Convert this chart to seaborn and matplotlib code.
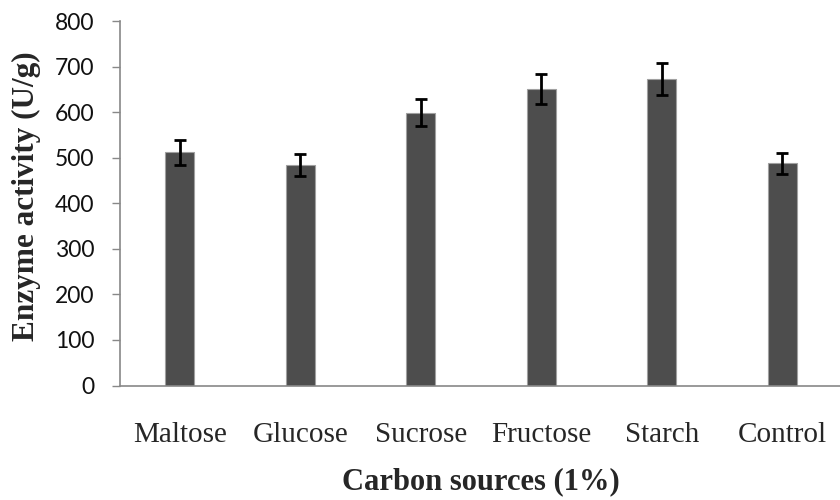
import matplotlib
matplotlib.use("Agg")
import matplotlib.pyplot as plt
import seaborn as sns
import pandas as pd

categories = ["Maltose", "Glucose", "Sucrose", "Fructose", "Starch", "Control"]
activity = [512, 483, 599, 650, 672, 488]
errors = [27, 24, 30, 33, 35, 23]
y_ticks = [0, 100, 200, 300, 400, 500, 600, 700, 800]

sns.set_theme(style="white")
plt.rcParams["font.family"] = ["Liberation Serif", "DejaVu Serif"]

df = pd.DataFrame({"source": categories, "activity": activity})

fig = plt.figure(figsize=(8.4, 5.0), dpi=100)
ax = fig.add_axes([119.5 / 840, 1 - 385.5 / 500, 723 / 840, (385.5 - 21) / 500])

sns.barplot(data=df, x="source", y="activity", color="#4d4d4d", saturation=1,
            width=0.24, edgecolor="#a0a0a0", linewidth=0.8, ax=ax)
ax.errorbar(range(len(categories)), activity, yerr=errors, fmt="none",
            ecolor="black", elinewidth=2.0, capsize=4.5, capthick=2.0, zorder=5)

ax.set_xlim(-0.5, len(categories) - 0.5)
ax.set_ylim(0, 800)
ax.set_yticks(y_ticks)
ax.set_yticklabels([str(v) for v in y_ticks], family=["Lato", "DejaVu Sans"],
                   fontsize=16.5, color="#111111")
ax.tick_params(axis="y", direction="out", length=6, width=1, color="#888888",
               left=True, pad=12)
ax.tick_params(axis="x", length=0, pad=26, labelsize=21)
for lbl in ax.get_xticklabels():
    lbl.set_family(["Liberation Serif", "DejaVu Serif"])

for side in ["top", "right"]:
    ax.spines[side].set_visible(False)
for side in ["left", "bottom"]:
    ax.spines[side].set_color("#888888")
    ax.spines[side].set_linewidth(1.2)

ax.set_xlabel("Carbon sources (1%)", fontsize=22, fontweight="bold",
              family=["Liberation Serif", "DejaVu Serif"], labelpad=14)
ax.set_ylabel("Enzyme activity (U/g)", fontsize=22.5, fontweight="bold",
              family=["Liberation Serif", "DejaVu Serif"])
ax.yaxis.set_label_coords(-0.108, 0.52)

fig.savefig("out.png", dpi=100)
